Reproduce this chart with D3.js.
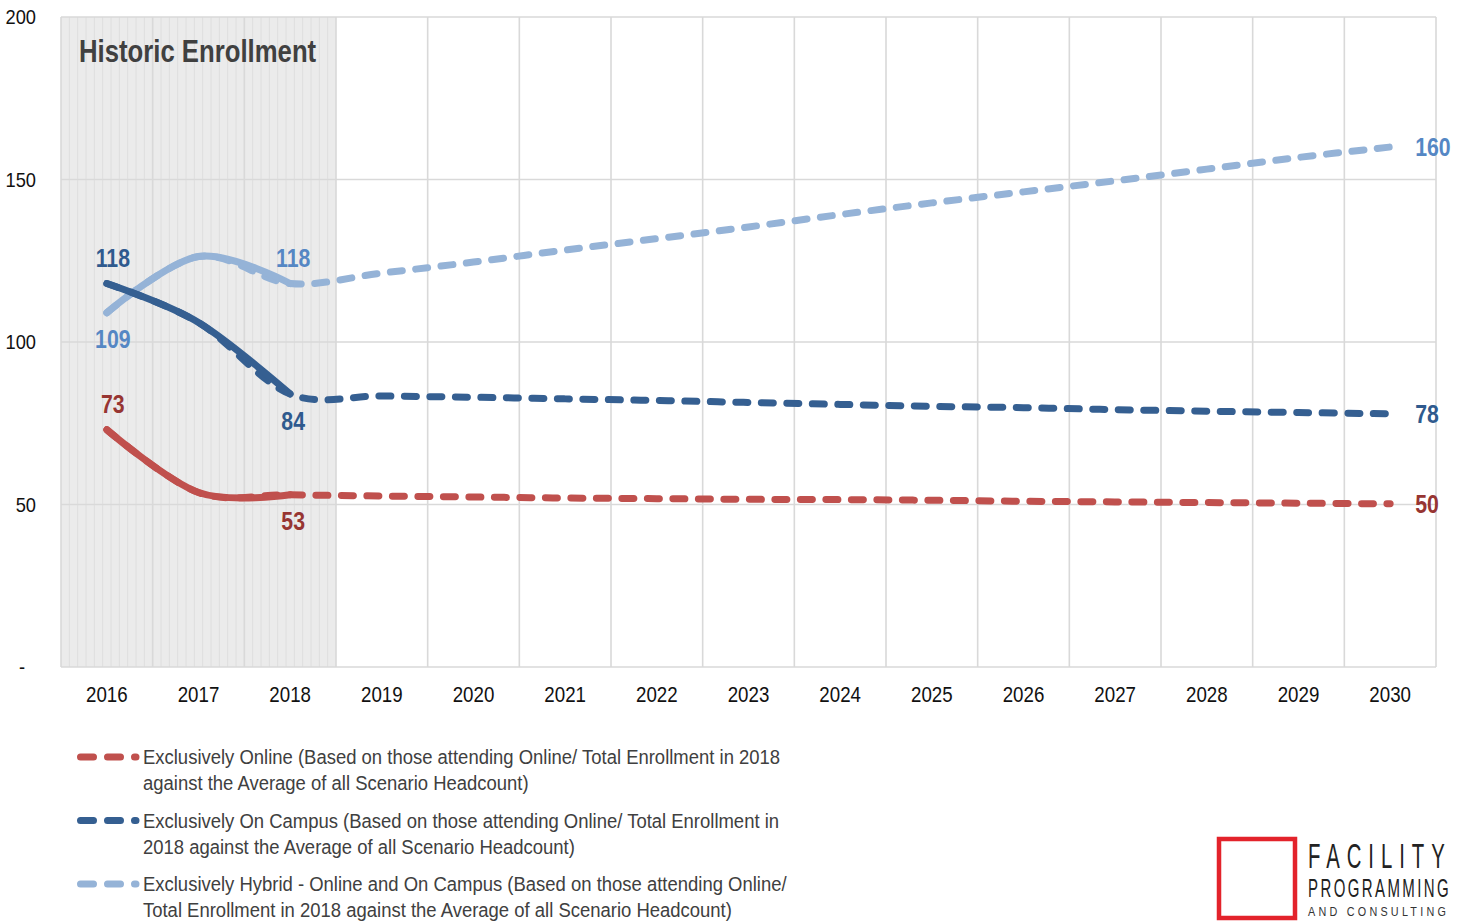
<!DOCTYPE html>
<html>
<head>
<meta charset="utf-8">
<script src="https://cdn.jsdelivr.net/npm/d3@7"></script>
<style>
  html, body { margin: 0; padding: 0; background: #fff; }
  svg { display: block; }
  text { font-family: "Liberation Sans", Arial, sans-serif; }
</style>
</head>
<body>
<svg id="chart" width="1459" height="924"></svg>
<script>
// ---------------- data ----------------
const years = [2016, 2017, 2018, 2019, 2020, 2021, 2022, 2023, 2024, 2025, 2026, 2027, 2028, 2029, 2030];
const historicYears = [2016, 2017, 2018];
const forecastYears = [2016, 2017, 2018, 2019, 2020, 2021, 2022, 2023, 2024, 2025, 2026, 2027, 2028, 2029, 2030];

const onlineHistoric = [73, 53.7, 53];
const campusHistoric = [118, 106, 84];
const hybridHistoric = [109, 126.3, 118];

const onlineForecast = [73, 53.7, 53, 52.6, 52.3, 52.0, 51.8, 51.6, 51.5, 51.3, 51.0, 50.8, 50.6, 50.4, 50.2];
const campusForecast = [118, 106, 84, 83.4, 83.0, 82.5, 82.0, 81.4, 80.8, 80.2, 79.8, 79.2, 78.7, 78.3, 77.9];
const hybridForecast = [109, 126.3, 118, 121.2, 124.6, 128.3, 131.8, 135.4, 139.2, 142.8, 146.2, 149.6, 153.2, 156.8, 160];

const yTicks = [0, 50, 100, 150, 200];
const titleText = "Historic Enrollment";
const legendLabels = [
  ["Exclusively Online (Based on those attending Online/ Total Enrollment in 2018", "against the Average of all Scenario Headcount)"],
  ["Exclusively On Campus (Based on those attending Online/ Total Enrollment in", "2018 against the Average of all Scenario Headcount)"],
  ["Exclusively Hybrid - Online and On Campus (Based on those attending Online/", "Total Enrollment in 2018 against the Average of all Scenario Headcount)"]
];
const logoLines = ["FACILITY", "PROGRAMMING", "AND CONSULTING"];

// ---------------- helpers ----------------
function condense(sel, k) {
  sel.each(function () {
    const e = d3.select(this);
    const x0 = +e.attr("x") || 0;
    e.attr("x", x0 / k).attr("transform", `scale(${k},1)`);
    e.selectAll("tspan").each(function () {
      const t = d3.select(this);
      if (t.attr("x") != null) t.attr("x", +t.attr("x") / k);
    });
  });
}

// ---------------- layout ----------------
const svg = d3.select("#chart");
const L = 61, R = 1436, T = 17, B = 667;

const x = d3.scaleBand().domain(years).range([L, R]).padding(0);
const cx = d => x(d) + x.bandwidth() / 2;
const y = d3.scaleLinear().domain([0, 200]).range([B, T]);

const colors = { online: "#c0504d", campus: "#355f91", hybrid: "#95b3d7" };
const labelColors = { online: "#973532", campus: "#2f5a8e", hybrid: "#5587c4" };

// historic shaded region
const hx0 = x(historicYears[0]);
const hx1 = x(historicYears[historicYears.length - 1]) + x.bandwidth();
svg.append("rect")
  .attr("x", hx0).attr("y", y(200))
  .attr("width", hx1 - hx0).attr("height", y(0) - y(200))
  .attr("fill", "#ebebeb");
const nFine = 11;
const step = x.bandwidth() / nFine;
svg.append("g").selectAll("line")
  .data(d3.range(1, historicYears.length * nFine).filter(k => k % nFine !== 0))
  .join("line")
  .attr("x1", k => hx0 + k * step).attr("x2", k => hx0 + k * step)
  .attr("y1", y(200)).attr("y2", y(0))
  .attr("stroke", "#dedede").attr("stroke-width", 1);

// grid
const grid = svg.append("g").attr("stroke", "#d9d9d9").attr("stroke-width", 1.6);
grid.selectAll("line.h").data(yTicks).join("line").attr("class", "h")
  .attr("x1", L).attr("x2", R).attr("y1", d => y(d)).attr("y2", d => y(d));
grid.selectAll("line.v").data(years.map(d => x(d)).concat([R])).join("line").attr("class", "v")
  .attr("x1", d => d).attr("x2", d => d).attr("y1", T).attr("y2", B);

// axes
const xAxis = svg.append("g").attr("transform", `translate(0,${B})`)
  .call(d3.axisBottom(x).tickSize(0).tickPadding(19));
xAxis.select(".domain").remove();
xAxis.selectAll("text").attr("font-size", 22).attr("fill", "#111")
  .style("font-family", '"Liberation Sans", Arial, sans-serif');
condense(xAxis.selectAll("text"), 0.85);

const yAxis = svg.append("g").attr("transform", `translate(${L},0)`)
  .call(d3.axisLeft(y).tickValues(yTicks).tickSize(0).tickPadding(25)
    .tickFormat(d => d === 0 ? "-" : d));
yAxis.select(".domain").remove();
yAxis.selectAll("text").attr("font-size", 21).attr("fill", "#111")
  .style("font-family", '"Liberation Sans", Arial, sans-serif')
  .attr("x", d => d === 0 ? -36 : -25);
condense(yAxis.selectAll("text"), 0.87);

// title
const title = svg.append("text").attr("x", 79).attr("y", 62)
  .attr("font-size", 31).attr("font-weight", "bold").attr("fill", "#404040")
  .text(titleText);
condense(title, 0.83);

// lines
const curve = d3.curveCardinal.tension(0);
const line = d3.line().x(d => cx(d[0])).y(d => y(d[1])).curve(curve);
const zip = (a, b) => a.map((v, i) => [v, b[i]]);

const series = [
  { key: "hybrid", hist: hybridHistoric, fc: hybridForecast },
  { key: "campus", hist: campusHistoric, fc: campusForecast },
  { key: "online", hist: onlineHistoric, fc: onlineForecast }
];
const lg = svg.append("g").attr("fill", "none").attr("stroke-linecap", "round").attr("stroke-linejoin", "round");
series.forEach(s => {
  lg.append("path").attr("d", line(zip(forecastYears, s.fc)))
    .attr("stroke", colors[s.key]).attr("stroke-width", 7)
    .attr("stroke-dasharray", "12 13.5");
  lg.append("path").attr("d", line(zip(historicYears, s.hist)))
    .attr("stroke", colors[s.key]).attr("stroke-width", 7);
});

// data labels
const fmt = v => d3.format(".0f")(v);
const labels = [
  { key: "campus", yr: 2016, v: campusHistoric[0], pos: "above" },
  { key: "hybrid", yr: 2016, v: hybridHistoric[0], pos: "below" },
  { key: "online", yr: 2016, v: onlineHistoric[0], pos: "above" },
  { key: "hybrid", yr: 2018, v: hybridHistoric[2], pos: "above" },
  { key: "campus", yr: 2018, v: campusHistoric[2], pos: "below" },
  { key: "online", yr: 2018, v: onlineHistoric[2], pos: "below" },
  { key: "hybrid", yr: 2030, v: hybridForecast[hybridForecast.length - 1], pos: "right" },
  { key: "campus", yr: 2030, v: campusForecast[campusForecast.length - 1], pos: "right" },
  { key: "online", yr: 2030, v: onlineForecast[onlineForecast.length - 1], pos: "right" }
];
const dl = svg.append("g").selectAll("text").data(labels).join("text")
  .attr("x", d => d.pos === "right" ? cx(d.yr) + 25 : cx(d.yr) + (d.yr === 2018 ? 3 : 6))
  .attr("y", d => d.pos === "above" ? y(d.v) - 25 : d.pos === "below" ? y(d.v) + 27 : y(d.v))
  .attr("dy", "0.35em")
  .attr("text-anchor", d => d.pos === "right" ? "start" : "middle")
  .attr("font-size", 25).attr("font-weight", "bold")
  .attr("fill", d => labelColors[d.key])
  .text(d => fmt(d.v));
condense(dl, 0.85);

// legend
const legend = svg.append("g");
const legKeys = ["online", "campus", "hybrid"];
legKeys.forEach((k, i) => {
  const ly = 757 + i * 63.5;
  legend.append("line").attr("x1", 80.5).attr("x2", 136).attr("y1", ly).attr("y2", ly)
    .attr("stroke", colors[k]).attr("stroke-width", 7).attr("stroke-linecap", "round")
    .attr("stroke-dasharray", "13 14");
  const t = legend.append("text").attr("x", 143).attr("y", ly).attr("font-size", 21).attr("fill", "#404040");
  legendLabels[i].forEach((s, j) => {
    t.append("tspan").attr("x", 143).attr("dy", j === 0 ? "0.35em" : 26).text(s);
  });
  condense(t, 0.88);
});

// logo
const logo = svg.append("g");
logo.append("rect").attr("x", 1219).attr("y", 839).attr("width", 76).attr("height", 79)
  .attr("fill", "#fff").attr("stroke", "#e3232b").attr("stroke-width", 4.5);
const l1 = logo.append("text").attr("x", 1308).attr("y", 868).attr("font-size", 35).attr("fill", "#222")
  .attr("letter-spacing", 12).text(logoLines[0]);
condense(l1, 0.58);
const l2 = logo.append("text").attr("x", 1308).attr("y", 897).attr("font-size", 25).attr("fill", "#222")
  .attr("letter-spacing", 4).text(logoLines[1]);
condense(l2, 0.6);
const l3 = logo.append("text").attr("x", 1308).attr("y", 916).attr("font-size", 12).attr("fill", "#333")
  .attr("letter-spacing", 3.6).text(logoLines[2]);
condense(l3, 0.9);
</script>
</body>
</html>
